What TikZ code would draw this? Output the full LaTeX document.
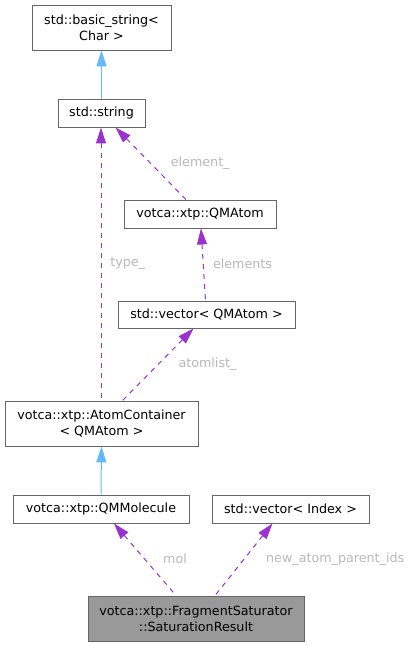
\documentclass[tikz,border=0pt]{standalone}
\usepackage{fontspec}
\setmainfont{DejaVu Sans}
\usepackage{tikz}
\usetikzlibrary{arrows.meta}

\definecolor{edgepurple}{HTML}{9A32CD}
\definecolor{edgeblue}{HTML}{63B8FF}
\definecolor{boxline}{HTML}{666666}
\definecolor{labelgray}{HTML}{B8B8B8}

\begin{document}
\begin{tikzpicture}[x=1pt,y=-1pt,
  font=\fontsize{12.7}{16}\selectfont,
  class node/.style={draw=boxline,line width=0.9pt,inner sep=0pt,align=center,
    minimum height=28pt},
  base edge/.style={<-,draw=edgeblue,line width=1pt,
    >={Triangle[length=16pt,width=10pt,fill=edgeblue]}},
  use edge/.style={<-,draw=edgepurple,line width=1pt,dash pattern=on 5pt off 5pt,
    >={Triangle[length=16pt,width=10pt,fill=edgepurple]}},
  edge label/.style={text=labelgray,anchor=west}]

  \useasboundingbox (0,0) rectangle (414,646);

  \node[class node,minimum width=139pt,minimum height=45pt] (basic) at (101.5,27.5)
    {std::basic\_string<\\Char >};
  \node[class node,minimum width=87pt] (string) at (101.5,113) {std::string};
  \node[class node,minimum width=152pt] (qmatom) at (200,214) {votca::xtp::QMAtom};
  \node[class node,minimum width=177pt,minimum height=27pt] (vecatom) at (206.5,314.5)
    {std::vector< QMAtom >};
  \node[class node,minimum width=193pt,minimum height=45pt] (container) at (101.5,423.5)
    {votca::xtp::AtomContainer\\< QMAtom >};
  \node[class node,minimum width=176pt] (molecule) at (101,509) {votca::xtp::QMMolecule};
  \node[class node,minimum width=157pt] (vecindex) at (290.5,509) {std::vector< Index >};
  \node[class node,fill=black!40,minimum width=216pt,minimum height=45pt] (result) at (196,618.5)
    {votca::xtp::FragmentSaturator\\::SaturationResult};

  \draw[base edge] (basic.south) -- (string.north);
  \draw[base edge] (container.south) -- (molecule.north);

  \draw[use edge] ([xshift=14pt]string.south) -- ([xshift=-14pt]qmatom.north)
    node[edge label,pos=0.49,xshift=17pt] {element\_};
  \draw[use edge] ([xshift=-0.5pt]string.south) -- ([xshift=-0.5pt]container.north)
    node[edge label,pos=0.5,xshift=5.5pt] {type\_};
  \draw[use edge] ([xshift=1pt]qmatom.south) -- ([xshift=-1pt]vecatom.north)
    node[edge label,pos=0.49,xshift=6pt] {elements};
  \draw[use edge] ([xshift=-13pt]vecatom.south) -- ([xshift=21pt]container.north)
    node[edge label,pos=0.49,xshift=16pt] {atomlist\_};
  \draw[use edge] ([xshift=13pt]molecule.south) -- ([xshift=-20pt]result.north)
    node[edge label,pos=0.49,xshift=15pt] {mol};
  \draw[use edge] ([xshift=-18pt]vecindex.south) -- ([xshift=19pt]result.north)
    node[edge label,pos=0.49,xshift=18pt] {new\_atom\_parent\_ids};

\end{tikzpicture}
\end{document}
